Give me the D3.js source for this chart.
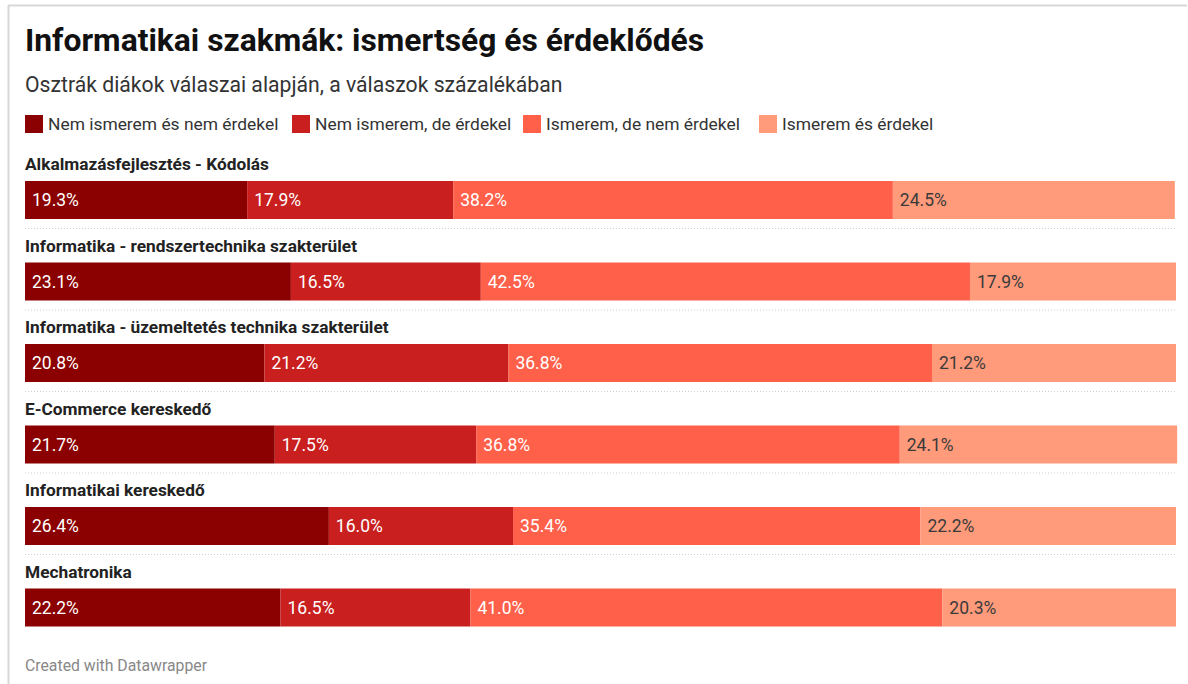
<!DOCTYPE html>
<html>
<head>
<meta charset="utf-8">
<script src="https://cdn.jsdelivr.net/npm/d3@7"></script>
<style>
  html, body { margin: 0; padding: 0; background: #fff; }
  svg { display: block; font-family: Roboto, "Noto Sans", sans-serif; }
</style>
</head>
<body>
<svg id="chart" width="1188" height="684"></svg>
<script>
const categories = [
  "Alkalmazásfejlesztés - Kódolás",
  "Informatika - rendszertechnika szakterület",
  "Informatika - üzemeltetés technika szakterület",
  "E-Commerce kereskedő",
  "Informatikai kereskedő",
  "Mechatronika"
];
const seriesNames = [
  "Nem ismerem és nem érdekel",
  "Nem ismerem, de érdekel",
  "Ismerem, de nem érdekel",
  "Ismerem és érdekel"
];
const nemNem   = [19.3, 23.1, 20.8, 21.7, 26.4, 22.2];
const nemDe    = [17.9, 16.5, 21.2, 17.5, 16.0, 16.5];
const igenNem  = [38.2, 42.5, 36.8, 36.8, 35.4, 41.0];
const igenIgen = [24.5, 17.9, 21.2, 24.1, 22.2, 20.3];
const colors = ["#8b0000", "#c91f1f", "#ff604a", "#ff9a7b"];
const labelColors = ["#ffffff", "#ffffff", "#ffffff", "#3a3a3a"];

const title = "Informatikai szakmák: ismertség és érdeklődés";
const subtitle = "Osztrák diákok válaszai alapján, a válaszok százalékában";
const footer = "Created with Datawrapper";

const rows = categories.map((c, i) => ({
  cat: c, vals: [nemNem[i], nemDe[i], igenNem[i], igenIgen[i]]
}));

const svg = d3.select("#chart");

// frame
svg.append("line").attr("x1", 8.5).attr("x2", 8.5).attr("y1", 5).attr("y2", 684)
  .attr("stroke", "#d8d8d8").attr("stroke-width", 2);
svg.append("line").attr("x1", 8).attr("x2", 1187).attr("y1", 5.5).attr("y2", 5.5)
  .attr("stroke", "#d8d8d8").attr("stroke-width", 2);

svg.append("text").attr("x", 25).attr("y", 51)
  .attr("font-size", 31.8).attr("font-weight", 700).attr("fill", "#111")
  .text(title);
svg.append("text").attr("x", 25).attr("y", 92)
  .attr("font-size", 21.2).attr("fill", "#333")
  .text(subtitle);

// legend
const legendX = [25, 292, 523, 759];
const lg = svg.append("g");
seriesNames.forEach((s, i) => {
  lg.append("rect").attr("x", legendX[i]).attr("y", 115).attr("width", 18).attr("height", 18)
    .attr("fill", colors[i]);
  lg.append("text").attr("x", legendX[i] + 23).attr("y", 130)
    .attr("font-size", 17.4).attr("fill", "#333").text(s);
});

const x = d3.scaleLinear().domain([0, 100]).range([25, 1176]);
const y = d3.scaleBand().domain(categories).range([150, 639]).paddingInner(0).paddingOuter(0);
const barTop = 31, barH = 38;

const g = svg.append("g");
rows.forEach((r, ri) => {
  const y0 = y(r.cat);
  const row = g.append("g");
  row.append("text").attr("x", 25).attr("y", y0 + 20)
    .attr("font-size", 17.3).attr("font-weight", 700).attr("fill", "#222")
    .text(r.cat);
  let acc = 0;
  r.vals.forEach((v, si) => {
    const x0 = x(acc), x1 = x(acc + v);
    row.append("rect").attr("x", x0).attr("y", y0 + barTop)
      .attr("width", x1 - x0).attr("height", barH)
      .attr("fill", colors[si]);
    row.append("text").attr("x", x0 + 7).attr("y", y0 + barTop + barH / 2)
      .attr("dy", "0.35em").attr("font-size", 17.5).attr("fill", labelColors[si])
      .text(v.toFixed(1) + "%");
    acc += v;
  });
  if (ri < rows.length - 1) {
    row.append("line").attr("x1", 25).attr("x2", 1176)
      .attr("y1", y0 + barTop + barH + 9.5).attr("y2", y0 + barTop + barH + 9.5)
      .attr("stroke", "#cfcfcf").attr("stroke-dasharray", "1,2");
  }
});

svg.append("text").attr("x", 25).attr("y", 671)
  .attr("font-size", 15.8).attr("fill", "#888").text(footer);
</script>
</body>
</html>
